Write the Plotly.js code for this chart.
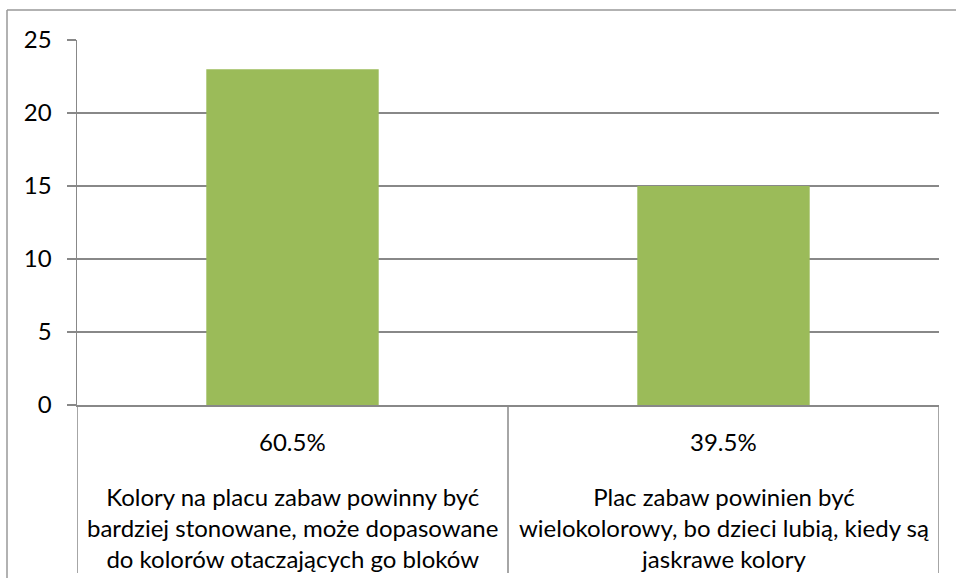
<!DOCTYPE html>
<html>
<head>
<meta charset="utf-8">
<script src="https://cdn.plot.ly/plotly-3.0.1.min.js"></script>
<style>html,body{margin:0;padding:0;background:#fff;}#chart{width:956px;height:578px;}</style>
</head>
<body>
<div id="chart"></div>
<script>
// Data
const categories = ["A", "B"];
const values = [23, 15];
const percentLabels = ["60.5%", "39.5%"];
const categoryTexts = [
  "Kolory na placu zabaw powinny być<br>bardziej stonowane, może dopasowane<br>do kolorów otaczających go bloków",
  "Plac zabaw powinien być<br>wielokolorowy, bo dzieci lubią, kiedy są<br>jaskrawe kolory"
];
const yTicks = [0, 5, 10, 15, 20, 25];

const W = 956, H = 578;
const L = 77, R = 939, T = 40, B = 405;
const FONT = "Lato, 'Open Sans', sans-serif";
const FS = 24;
const GRID = "#888888";
const py = p => (B - p) / (B - T);
const px = p => (p - L) / (R - L);

const annotations = [];
categories.forEach((c, i) => {
  annotations.push({xref: 'x', x: i, yref: 'paper', y: py(441), yanchor: 'middle', xanchor: 'center',
    text: percentLabels[i], showarrow: false, font: {family: FONT, size: FS, color: '#000'}});
  annotations.push({xref: 'x', x: i, yref: 'paper', y: py(527), yanchor: 'middle', xanchor: 'center',
    text: categoryTexts[i], showarrow: false, align: 'center', font: {family: FONT, size: FS, color: '#000'}});
});

const shapes = [];
// category separators
[-0.5, 0.5, 1.5].forEach(x => {
  shapes.push({type: 'line', xref: 'x', x0: x, x1: x, yref: 'paper', y0: 0, y1: py(573),
    line: {color: GRID, width: 1.5}});
});
// outer frame
shapes.push({type: 'line', xref: 'paper', x0: px(7), x1: px(7), yref: 'paper', y0: py(10), y1: py(600),
  line: {color: '#999', width: 1.5}});
shapes.push({type: 'line', xref: 'paper', x0: px(7), x1: px(970), yref: 'paper', y0: py(10), y1: py(10),
  line: {color: '#999', width: 1.5}});

const data = [{
  type: 'bar', x: categories.map((c, i) => i), y: values,
  marker: {color: '#9BBB59'}, width: 0.4, hoverinfo: 'none'
}];

const layout = {
  width: W, height: H,
  margin: {l: L, r: W - R, t: T, b: H - B},
  paper_bgcolor: '#fff', plot_bgcolor: '#fff',
  showlegend: false,
  font: {family: FONT, size: FS, color: '#000'},
  xaxis: {range: [-0.5, 1.5], showticklabels: false, showgrid: false, zeroline: false,
    showline: true, linecolor: GRID, linewidth: 1.5, ticks: ''},
  yaxis: {range: [0, 25], tickvals: yTicks, ticktext: yTicks.map(String),
    showgrid: true, gridcolor: GRID, gridwidth: 1.5, zeroline: false,
    showline: true, linecolor: GRID, linewidth: 1.5,
    ticks: 'outside', ticklen: 9, tickcolor: GRID, tickwidth: 1.5,
    ticklabelstandoff: 10,
    tickfont: {family: FONT, size: FS, color: '#000'}},
  annotations: annotations,
  shapes: shapes
};

Plotly.newPlot('chart', data, layout, {staticPlot: true, displayModeBar: false});
</script>
</body>
</html>
